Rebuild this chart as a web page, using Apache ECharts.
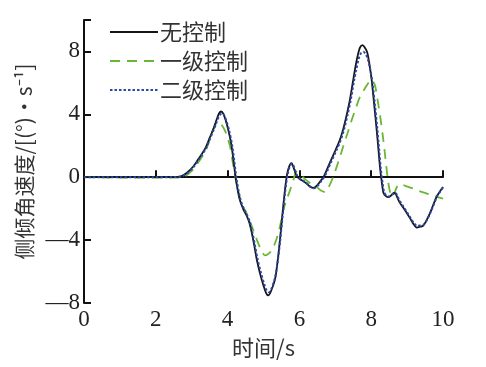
<!DOCTYPE html>
<html><head><meta charset="utf-8">
<script src="https://cdn.jsdelivr.net/npm/echarts@6/dist/echarts.min.js"></script>
<style>html,body{margin:0;padding:0;background:#fff}#c{width:486px;height:367px}</style>
</head><body><div id="c"></div>
<script>
var seriesNames = ['无控制', '一级控制', '二级控制'];
var xTicks = [0, 2, 4, 6, 8, 10];
var yTicks = [-8, -4, 0, 4, 8];
var noControl = [[0,0],[1,0],[2,0],[2.5,0.01],[2.7,0.06],[2.85,0.25],[3.05,0.7],[3.2,1.2],[3.37,1.8],[3.5,2.5],[3.6,3.05],[3.7,3.7],[3.76,4.05],[3.82,4.18],[3.88,4.05],[3.95,3.6],[4.02,3.0],[4.11,2.0],[4.23,-0.1],[4.33,-1.35],[4.43,-2.0],[4.53,-2.45],[4.6,-2.85],[4.67,-3.5],[4.74,-4.3],[4.81,-5.2],[4.9,-6.1],[5.0,-6.9],[5.07,-7.35],[5.13,-7.52],[5.2,-7.3],[5.32,-6.5],[5.39,-5.4],[5.46,-3.95],[5.53,-2.3],[5.6,-0.76],[5.65,0.1],[5.69,0.5],[5.74,0.82],[5.78,0.89],[5.84,0.6],[5.92,0.1],[6.0,-0.1],[6.11,-0.25],[6.2,-0.4],[6.3,-0.6],[6.39,-0.68],[6.5,-0.5],[6.6,-0.2],[6.67,0.0],[6.76,0.45],[6.85,0.93],[7.0,1.7],[7.13,2.4],[7.22,3.06],[7.32,4.0],[7.41,4.97],[7.5,6.2],[7.55,6.88],[7.62,7.7],[7.69,8.26],[7.76,8.4],[7.82,8.25],[7.89,7.94],[7.95,7.2],[8.01,6.24],[8.08,4.7],[8.15,3.06],[8.2,1.8],[8.25,0.51],[8.3,-0.4],[8.34,-0.98],[8.41,-1.2],[8.48,-1.27],[8.56,-1.15],[8.63,-1.0],[8.68,-1.05],[8.74,-1.35],[8.8,-1.63],[8.9,-1.95],[8.99,-2.27],[9.08,-2.6],[9.17,-2.95],[9.27,-3.2],[9.36,-3.15],[9.45,-3.08],[9.55,-2.7],[9.64,-2.27],[9.73,-1.75],[9.82,-1.25],[9.9,-0.95],[10.0,-0.62]];
var level1 = [[0,0],[1,-0.02],[2,-0.02],[2.6,-0.02],[2.8,0.05],[3.0,0.4],[3.2,1.0],[3.4,1.75],[3.56,2.8],[3.66,3.3],[3.75,3.5],[3.83,3.35],[3.93,2.95],[4.0,2.5],[4.07,1.95],[4.14,1.0],[4.21,0.04],[4.3,-0.9],[4.39,-1.65],[4.46,-2.0],[4.53,-2.3],[4.62,-2.8],[4.72,-3.4],[4.81,-3.95],[4.9,-4.46],[4.97,-4.8],[5.04,-4.97],[5.12,-4.9],[5.23,-4.65],[5.32,-4.2],[5.41,-3.59],[5.48,-2.9],[5.55,-2.1],[5.64,-1.45],[5.74,-0.83],[5.83,-0.2],[5.92,0.34],[6.05,0.1],[6.2,-0.2],[6.34,-0.45],[6.48,-0.62],[6.6,-0.85],[6.71,-0.94],[6.8,-0.7],[6.94,0.02],[7.08,0.95],[7.22,1.95],[7.34,2.8],[7.46,3.65],[7.58,4.45],[7.69,5.13],[7.83,5.67],[7.92,6.0],[7.99,6.2],[8.05,6.1],[8.11,5.8],[8.18,4.9],[8.25,3.87],[8.32,2.7],[8.38,1.53],[8.43,0.5],[8.48,-0.4],[8.53,-1.0],[8.57,-1.25],[8.62,-1.1],[8.66,-0.93],[8.72,-0.6],[8.8,-0.42],[8.95,-0.55],[9.17,-0.72],[9.36,-0.9],[9.55,-1.04],[9.75,-1.2],[10.0,-1.36]];
var level2 = [[0,0],[1,0],[2,0],[2.5,0.01],[2.7,0.05],[2.87,0.25],[3.07,0.7],[3.22,1.2],[3.39,1.8],[3.52,2.5],[3.62,3.05],[3.72,3.65],[3.78,3.95],[3.84,4.05],[3.9,3.95],[3.97,3.55],[4.04,3.0],[4.13,2.0],[4.25,-0.1],[4.35,-1.35],[4.45,-2.0],[4.55,-2.45],[4.62,-2.85],[4.69,-3.5],[4.76,-4.3],[4.83,-5.15],[4.92,-6.0],[5.02,-6.8],[5.09,-7.2],[5.15,-7.32],[5.22,-7.1],[5.33,-6.3],[5.4,-5.3],[5.47,-3.9],[5.54,-2.3],[5.61,-0.8],[5.66,0.05],[5.7,0.45],[5.75,0.78],[5.8,0.85],[5.86,0.58],[5.94,0.1],[6.02,-0.1],[6.13,-0.25],[6.22,-0.42],[6.32,-0.62],[6.41,-0.7],[6.52,-0.52],[6.62,-0.2],[6.69,0.0],[6.78,0.42],[6.87,0.9],[7.02,1.65],[7.15,2.35],[7.24,3.0],[7.34,3.95],[7.43,4.9],[7.52,6.1],[7.58,6.8],[7.66,7.6],[7.72,7.9],[7.78,7.98],[7.84,7.85],[7.9,7.55],[7.96,7.0],[8.03,6.1],[8.1,4.7],[8.17,3.1],[8.22,1.8],[8.27,0.5],[8.32,-0.4],[8.36,-0.95],[8.43,-1.18],[8.5,-1.22],[8.58,-1.1],[8.65,-1.0],[8.7,-1.05],[8.76,-1.35],[8.82,-1.6],[8.92,-1.95],[9.01,-2.27],[9.1,-2.6],[9.19,-2.9],[9.29,-3.1],[9.38,-3.05],[9.47,-3.0],[9.57,-2.65],[9.66,-2.2],[9.75,-1.7],[9.84,-1.2],[9.92,-0.92],[10.0,-0.65]];

var serif = 'Liberation Serif';
var cjk = 'Noto Sans CJK SC';
var chart = echarts.init(document.getElementById('c'));
chart.setOption({
  animation: false,
  grid: {left: 84, right: 43, top: 20, bottom: 64, containLabel: false},
  legend: {
    orient: 'vertical', left: 104, top: 16, itemWidth: 48, itemHeight: 12, itemGap: 7,
    data: seriesNames,
    itemStyle: {opacity: 0},
    textStyle: {fontFamily: cjk, fontSize: 22, color: '#333', padding: [0,0,0,-3]}
  },
  xAxis: {
    type: 'value', min: 0, max: 10, interval: 2,
    name: '时间/s', nameLocation: 'middle', nameGap: 34,
    nameTextStyle: {fontFamily: cjk, fontSize: 22, color: '#333'},
    axisLine: {lineStyle: {color: '#111', width: 2}},
    axisTick: {inside: true, length: 7, lineStyle: {color: '#111', width: 2}},
    axisLabel: {fontFamily: serif, fontSize: 23, color: '#222', margin: 5, formatter: function(v){ return xTicks.indexOf(v) < 0 ? '' : String(v); }},
    splitLine: {show: false}
  },
  yAxis: {
    type: 'value', min: -8, max: 10, interval: 4,
    name: '侧倾角速度/[(°)·s⁻¹]', nameLocation: 'middle', nameGap: 46,
    nameTextStyle: {fontFamily: cjk, fontSize: 21, color: '#333'},
    axisLine: {lineStyle: {color: '#111', width: 2}},
    axisTick: {inside: true, length: 7, lineStyle: {color: '#111', width: 2}},
    axisLabel: {fontFamily: serif, fontSize: 23, color: '#222', margin: 4,
      formatter: function(v){ return yTicks.indexOf(v) < 0 ? '' : String(v).replace('-', '\u2014'); }},
    splitLine: {show: false}
  },
  series: [
    {name: seriesNames[1], type: 'line', data: level1, symbol: 'none', smooth: 0.3, z: 2,
     lineStyle: {color: '#6ab735', width: 1.8, type: [10, 7]}, itemStyle: {color: '#6ab735'}},
    {name: seriesNames[0], type: 'line', data: noControl, symbol: 'none', smooth: 0.3, z: 3,
     lineStyle: {color: '#151515', width: 1.8}, itemStyle: {color: '#151515'}},
    {name: seriesNames[2], type: 'line', data: level2, symbol: 'none', smooth: 0.3, z: 4,
     lineStyle: {color: '#2a48a8', width: 2, type: [2.5, 2]}, itemStyle: {color: '#2a48a8'}}
  ]
});
</script></body></html>
